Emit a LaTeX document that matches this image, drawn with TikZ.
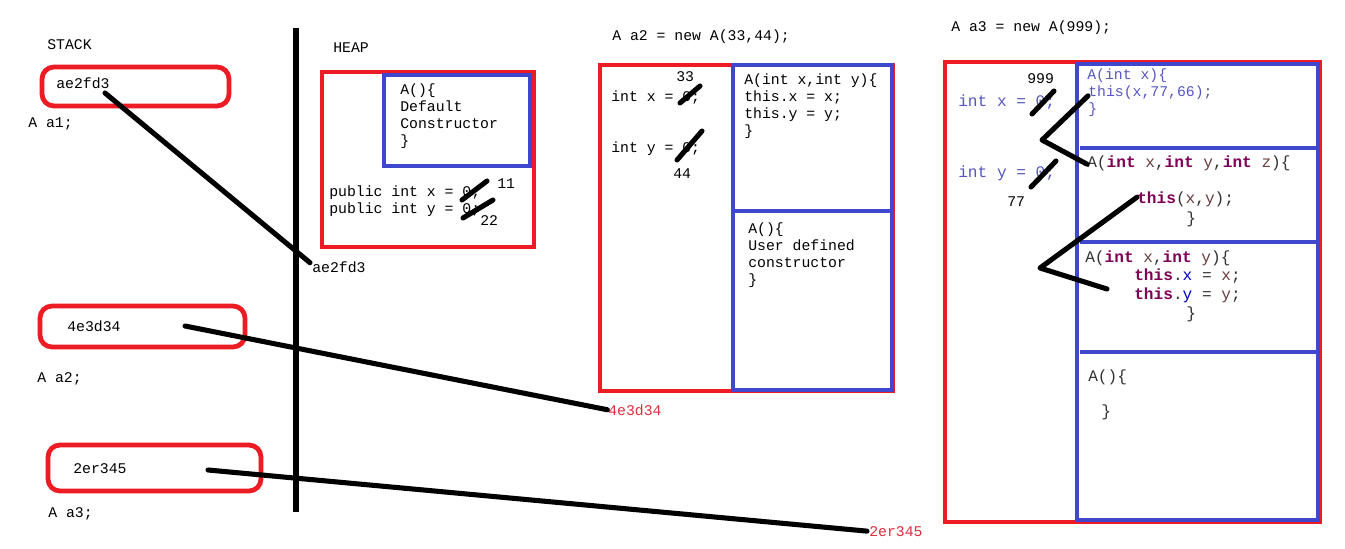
\documentclass[tikz,border=0pt]{standalone}
\usepackage{fontspec}
\setmonofont{Liberation Mono}
\definecolor{pred}{RGB}{237,28,36}
\definecolor{pblue}{RGB}{63,72,204}
\definecolor{slate}{RGB}{85,85,195}
\definecolor{kw}{RGB}{127,0,85}
\definecolor{fld}{RGB}{0,0,192}
\definecolor{var}{RGB}{106,62,62}
\definecolor{pln}{RGB}{50,50,50}
\definecolor{lblred}{RGB}{225,45,60}
\newcommand{\KW}[1]{\textcolor{kw}{\textbf{#1}}}
\newcommand{\VR}[1]{\textcolor{var}{#1}}
\newcommand{\FD}[1]{\textcolor{fld}{#1}}
\tikzset{
  code/.style={anchor=base west, inner sep=0pt, font=\ttfamily\fontsize{11.1}{13}\selectfont},
  codeL/.style={code, font=\ttfamily\fontsize{12.1}{14}\selectfont},
  blk/.style={line width=3.8pt, black, line cap=round},
  redbox/.style={line width=3pt, draw=pred},
  bluebox/.style={line width=3pt, draw=pblue},
  stackbox/.style={draw=pred, line width=3.6pt, rounded corners=9pt, inner sep=0pt}
}
\begin{document}
\begin{tikzpicture}[x=0.75pt,y=-0.75pt]
\useasboundingbox[fill=white] (0,0) rectangle (1345,549);

% ---------- STACK ----------
\node[code] (stack) at (47,50) {STACK};
\node[stackbox, minimum width=140.25pt, minimum height=29.25pt] (s1) at (135.5,86.5) {};
\node[code] (s1t) at (56,89) {ae2fd3};
\node[code] (a1) at (28,128) {A a1;};

\node[stackbox, minimum width=153.75pt, minimum height=30.75pt] (s2) at (142.5,326.5) {};
\node[code] (s2t) at (67,331) {4e3d34};
\node[code] (a2) at (37,382) {A a2;};

\node[stackbox, minimum width=159.75pt, minimum height=34.5pt] (s3) at (154.5,468) {};
\node[code] (s3t) at (73,473) {2er345};
\node[code] (a3) at (48,517) {A a3;};

% divider
\draw[blk, line cap=butt] (296,28) -- (296,512);

% ---------- HEAP ----------
\node[code] (heap) at (333,53) {HEAP};
\draw[redbox] (322,72) rectangle (534,247);
\draw[bluebox] (384,75) rectangle (530,166);
\node[code] (h1a) at (400,95) {A()\{};
\node[code] (h1b) at (400,112) {Default};
\node[code] (h1c) at (400,129) {Constructor};
\node[code] (h1d) at (400,146) {\}};
\node[code] (hx) at (329,196) {public int x = 0;};
\node[code] (hy) at (329,213) {public int y = 0;};
\node[code] (h11) at (497,189) {11};
\node[code] (h22) at (480,225) {22};
\draw[blk] (462,200) -- (487,181);
\draw[blk] (463,218) -- (493,200);
\node[code] (ref1) at (312,272) {ae2fd3};

% ---------- a2 object ----------
\node[code] (a2new) at (612,41) {A a2 = new A(33,44);};
\draw[redbox] (600,65) rectangle (893,391);
\draw[bluebox] (733,65) rectangle (892,390);
\draw[bluebox] (733,211) -- (892,211);
\node[code] (v33) at (676,82) {33};
\node[code] (ax) at (611,102) {int x = 0;};
\node[code] (ay) at (611,152) {int y = 0;};
\node[code] (v44) at (673,179) {44};
\draw[blk] (680,103) -- (700,86);
\draw[blk] (677,160) -- (702,131);
\node[code] (c1a) at (744,85) {A(int x,int y)\{};
\node[code] (c1b) at (744,102) {this.x = x;};
\node[code] (c1c) at (744,119) {this.y = y;};
\node[code] (c1d) at (744,136) {\}};
\node[code] (c2a) at (748,233) {A()\{};
\node[code] (c2b) at (748,250) {User defined};
\node[code] (c2c) at (748,267) {constructor};
\node[code] (c2d) at (748,284) {\}};
\node[code, text=lblred] (ref2) at (608,415) {4e3d34};

% ---------- a3 object ----------
\node[code] (a3new) at (951,32) {A a3 = new A(999);};
\draw[redbox] (945,62) rectangle (1320,522);
\draw[bluebox] (1077,64) rectangle (1318,520);
\draw[bluebox] (1080,148) -- (1318,148);
\draw[bluebox] (1080,242) -- (1318,242);
\draw[bluebox] (1080,352) -- (1318,352);
\node[code] (v999) at (1027,84) {999};
\node[codeL, text=slate] (bx) at (958,107) {int x = 0;};
\node[codeL, text=slate] (by) at (958,178) {int y = 0;};
\node[code] (v77) at (1007,206) {77};
\draw[blk] (1032,114) -- (1054,91);
\draw[blk] (1031,187) -- (1056,161);
% box 1
\node[code, text=slate] (d1a) at (1087,80) {A(int x)\{};
\node[code, text=slate] (d1b) at (1088,97) {this(x,77,66);};
\node[code, text=slate] (d1c) at (1088,114) {\}};
% box 2
\node[codeL, text=pln] (d2a) at (1087,167) {A(\KW{int} \VR{x},\KW{int} \VR{y},\KW{int} \VR{z})\{};
\node[codeL, text=pln] (d2b) at (1137,204) {\KW{this}(\VR{x},\VR{y});};
\node[codeL, text=pln] (d2c) at (1186,223) {\}};
% box 3
\node[codeL, text=pln] (d3a) at (1085,262) {A(\KW{int} \VR{x},\KW{int} \VR{y})\{};
\node[codeL, text=pln] (d3b) at (1134,280) {\KW{this}.\FD{x} = \VR{x};};
\node[codeL, text=pln] (d3c) at (1134,299) {\KW{this}.\FD{y} = \VR{y};};
\node[codeL, text=pln] (d3d) at (1186,318) {\}};
% box 4
\node[codeL, text=pln] (d4a) at (1088,381) {A()\{};
\node[codeL, text=pln] (d4b) at (1101,416) {\}};
\node[code, text=lblred] (ref3) at (869,536) {2er345};

% ---------- connectors ----------
\coordinate (p1) at (105,93);
\coordinate (p2) at (185,326);
\coordinate (p3) at (208,470);
\draw[blk] (p1) -- ([xshift=-1.5pt,yshift=3pt]ref1.west);
\draw[blk] (p2) -- ([xshift=-0.5pt]ref2.west);
\draw[blk] (p3) -- ([xshift=-1.5pt]ref3.west);

% zigzags (constructor chaining)
\coordinate (z1) at (1042,140);
\coordinate (z2) at (1040,268);
\coordinate (z3) at (1107,289);
\draw[blk, line join=round] ([xshift=0pt,yshift=-2pt]d1b.west) -- (z1) -- ([yshift=-1pt]d2a.west);
\draw[blk, line join=round] ([yshift=2pt]d2b.west) -- (z2) -- (z3);
\end{tikzpicture}
\end{document}
